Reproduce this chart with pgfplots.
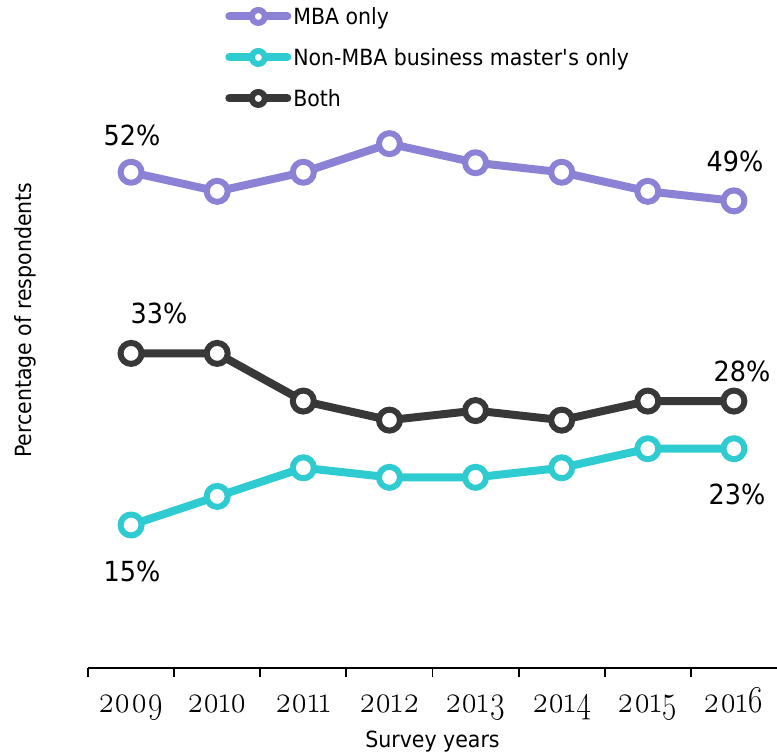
\documentclass[border=0pt]{standalone}
\usepackage{fontspec}
\setmainfont{DejaVu Sans}[FakeStretch=0.92]
\newfontfamily\tickfont[Numbers=OldStyle, FakeStretch=0.82]{Latin Modern Roman}
\usepackage{pgfplots}
\pgfplotsset{compat=1.18}
\definecolor{cmba}{HTML}{8B82D6}
\definecolor{cnon}{HTML}{2ECBD1}
\definecolor{cboth}{HTML}{383838}
\begin{document}
\begin{tikzpicture}
\useasboundingbox (-88pt,-86pt) rectangle (689pt,668pt);
\begin{axis}[
  scale only axis,
  width=689pt, height=572pt,
  xmin=-0.5, xmax=7.5, ymin=0, ymax=60,
  clip=false,
  axis x line*=bottom,
  axis y line=none,
  x axis line style={line width=2.2pt, -},
  xtick={0,...,7},
  xticklabels={2009,2010,2011,2012,2013,2014,2015,2016},
  major tick length=0pt,
  minor xtick={-0.5,0.5,...,6.5},
  minor tick length=9pt,
  tick align=outside,
  minor tick style={line width=1.8pt, black},
  xticklabel style={font=\tickfont\fontsize{38}{38}\selectfont, anchor=base, yshift=-45pt},
  ytick=\empty,
  xlabel={Survey years},
  xlabel style={font=\fontsize{22.3}{26}\selectfont, at={(axis description cs:0.5,0)}, anchor=base, yshift=-80pt},
  every axis plot/.append style={line width=8pt, line join=round, line cap=round,
     mark=*, mark size=10.5pt, mark options={fill=white, line width=6pt}},
  legend style={at={(axis description cs:0.199,1.156)}, anchor=north west, draw=none, fill=none,
     font=\fontsize{22.3}{26}\selectfont, row sep=22pt, inner sep=0pt,
     nodes={inner xsep=2pt, inner ysep=0pt}},
  legend cell align=left,
  legend image code/.code={
     \path (0pt,0pt) -- (58pt,0pt);
     \draw[#1, mark=none, line width=8pt, line cap=round] (4pt,0pt) -- (54pt,0pt);
     \draw[#1, mark=none, line width=6pt, fill=white] (29pt,0pt) circle (6.5pt);
  },
]
\addplot[color=cmba] coordinates {(0,52) (1,50) (2,52) (3,55) (4,53) (5,52) (6,50) (7,49)};
\addlegendentry{MBA only}
\addplot[color=cnon] coordinates {(0,15) (1,18) (2,21) (3,20) (4,20) (5,21) (6,23) (7,23)};
\addlegendentry{Non-MBA business master\textquotesingle s only}
\addplot[color=cboth] coordinates {(0,33) (1,33) (2,28) (3,26) (4,27) (5,26) (6,28) (7,28)};
\addlegendentry{Both}
\node[rotate=90, anchor=center, font=\fontsize{22.3}{26}\selectfont] at (axis description cs:-0.0914,0.608) {Percentage of respondents};
\begin{scope}[every node/.style={font=\fontsize{27.7}{30}\selectfont, anchor=center, inner sep=0pt}]
\node[xshift=1pt, yshift=37pt] at (axis cs:0,52) {52\%};
\node[xshift=1pt, yshift=39pt] at (axis cs:7,49) {49\%};
\node[xshift=28pt, yshift=40pt] at (axis cs:0,33) {33\%};
\node[xshift=8pt, yshift=30pt] at (axis cs:7,28) {28\%};
\node[xshift=1pt, yshift=-46pt] at (axis cs:0,15) {15\%};
\node[xshift=3pt, yshift=-46pt] at (axis cs:7,23) {23\%};
\end{scope}
\end{axis}
\end{tikzpicture}
\end{document}
